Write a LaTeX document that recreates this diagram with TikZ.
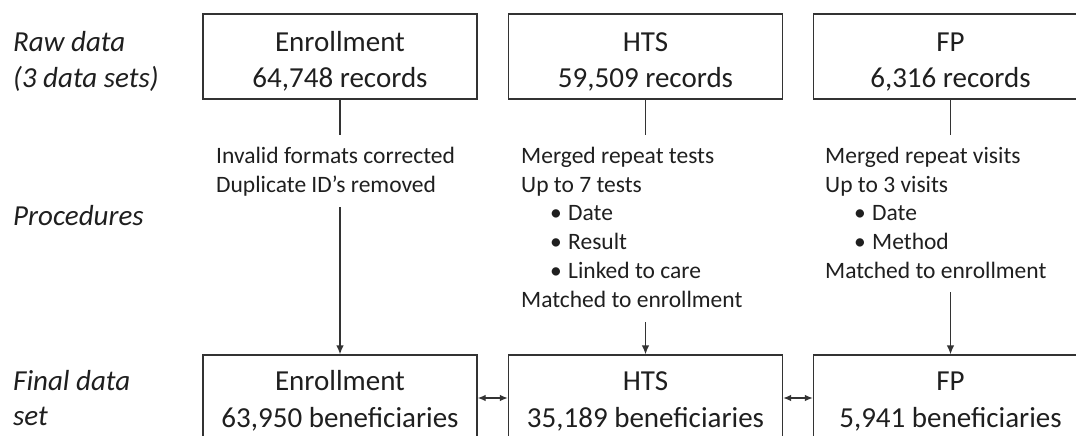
\documentclass[tikz,border=0pt]{standalone}
\usepackage{fontspec}
\setmainfont{Carlito}
\usetikzlibrary{arrows.meta}
\begin{document}
\begin{tikzpicture}[x=1pt,y=-1pt,
  box/.style={draw=black!80, line width=1.3pt, minimum width=274pt, minimum height=85pt, inner sep=0pt},
  bigtxt/.style={font=\fontsize{29}{35}\selectfont, text=black!88, inner sep=0pt, anchor=base},
  proc/.style={font=\fontsize{23.5}{29}\selectfont, text=black!88, inner sep=0pt, anchor=base west},
  lbl/.style={font=\fontsize{29}{35}\selectfont\itshape, text=black!88, inner sep=0pt, anchor=base west},
  conn/.style={draw=black!80, line width=1.3pt},
  arr/.style={conn, -{Latex[length=9pt,width=7.5pt]}},
  darr/.style={conn, {Latex[length=8pt,width=6.5pt]}-{Latex[length=8pt,width=6.5pt]}}]
\clip (0,0) rectangle (1076,436);
\fill[white] (0,0) rectangle (1076,436);
% left labels
\node[lbl] (l1) at (13,52) {Raw data};
\node[lbl] (l2) at (13,87) {(3 data sets)};
\node[lbl] (l3) at (13,225) {Procedures};
\node[lbl] (l4) at (13,390) {Final data};
\node[lbl] (l5) at (13,425) {set};
% top boxes
\node[box] (e1) at (340,56.5) {};
\node[box] (h1) at (645.5,56.5) {};
\node[box] (f1) at (950.5,56.5) {};
\node[bigtxt] (e1a) at (340,52) {Enrollment};
\node[bigtxt] (e1b) at (340,87) {64,748 records};
\node[bigtxt] (h1a) at (645.5,52) {HTS};
\node[bigtxt] (h1b) at (645.5,87) {59,509 records};
\node[bigtxt] (f1a) at (950.5,52) {FP};
\node[bigtxt] (f1b) at (950.5,87) {6,316 records};
% bottom boxes
\node[box, minimum height=86pt] (e2) at (340,398) {};
\node[box, minimum height=86pt] (h2) at (645.5,398) {};
\node[box, minimum height=86pt] (f2) at (950.5,398) {};
\node[bigtxt] (e2a) at (340,390) {Enrollment};
\node[bigtxt] (e2b) at (340,427) {63,950 beneficiaries};
\node[bigtxt] (h2a) at (645.5,390) {HTS};
\node[bigtxt] (h2b) at (645.5,427) {35,189 beneficiaries};
\node[bigtxt] (f2a) at (950.5,390) {FP};
\node[bigtxt] (f2b) at (950.5,427) {5,941 beneficiaries};
% procedures: enrollment
\node[proc] (pe1) at (216,163) {Invalid formats corrected};
\node[proc] (pe2) at (216,192) {Duplicate ID’s removed};
% procedures: HTS
\node[proc] (ph1) at (521,163) {Merged repeat tests};
\node[proc] (ph2) at (521,192) {Up to 7 tests};
\node[proc] (ph3b) at (550,220) {•};
\node[proc] (ph3) at (568,220) {Date};
\node[proc] (ph4b) at (550,249) {•};
\node[proc] (ph4) at (568,249) {Result};
\node[proc] (ph5b) at (550,278) {•};
\node[proc] (ph5) at (568,278) {Linked to care};
\node[proc] (ph6) at (521,307) {Matched to enrollment};
% procedures: FP
\node[proc] (pf1) at (825,163) {Merged repeat visits};
\node[proc] (pf2) at (825,192) {Up to 3 visits};
\node[proc] (pf3b) at (854,220) {•};
\node[proc] (pf3) at (872,220) {Date};
\node[proc] (pf4b) at (854,249) {•};
\node[proc] (pf4) at (872,249) {Method};
\node[proc] (pf5) at (825,278) {Matched to enrollment};
% connectors
\coordinate (e1p) at (340,135);
\coordinate (h1p) at (645.5,135);
\coordinate (f1p) at (950.5,135);
\coordinate (e2p) at (340,207);
\coordinate (h2p) at (645.5,322);
\coordinate (f2p) at (950.5,292);
\draw[conn] (e1.south) -- (e1p);
\draw[conn] (h1.south) -- (h1p);
\draw[conn] (f1.south) -- (f1p);
\draw[arr] (e2p) -- (e2.north);
\draw[arr] (h2p) -- (h2.north);
\draw[arr] (f2p) -- (f2.north);
\draw[darr] (e2.east) -- (h2.west);
\draw[darr] (h2.east) -- (f2.west);
\end{tikzpicture}
\end{document}
